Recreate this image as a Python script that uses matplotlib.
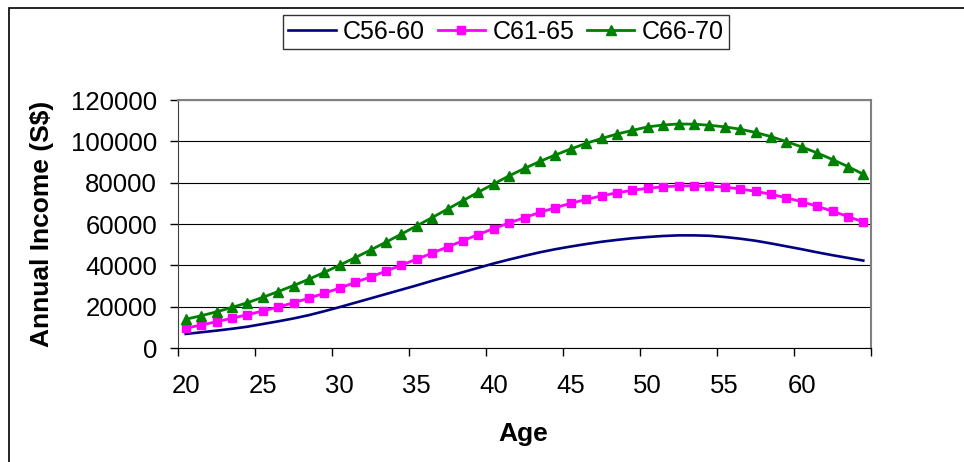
import matplotlib
matplotlib.use("Agg")
import matplotlib.pyplot as plt
from matplotlib.patches import Rectangle

plt.rcParams["font.family"] = ["Liberation Sans", "DejaVu Sans"]

# ages 20..64, one point per year
ages = list(range(20, 65))

c56_60 = [6800, 7600, 8400, 9300, 10300, 11600, 12900, 14300, 15900, 17800,
          19800, 21900, 24000, 26100, 28200, 30300, 32500, 34600, 36700, 38800,
          40900, 42800, 44600, 46300, 47800, 49100, 50300, 51400, 52300, 53100,
          53700, 54200, 54500, 54500, 54300, 53700, 52900, 51900, 50600, 49200,
          47800, 46300, 44900, 43600, 42300]

c61_65 = [9600, 11100, 12700, 14400, 16100, 17900, 19800, 21900, 24100, 26500,
          29000, 31700, 34400, 37200, 40100, 43000, 45900, 48900, 51900, 54900,
          57800, 60500, 63100, 65600, 67900, 70000, 71900, 73600, 75100, 76300,
          77300, 78000, 78400, 78500, 78300, 77800, 77000, 75800, 74400, 72700,
          70800, 68600, 66200, 63600, 61000]

c66_70 = [13900, 15600, 17500, 19600, 21900, 24500, 27300, 30200, 33300, 36600,
          40100, 43700, 47400, 51200, 55100, 59100, 63100, 67200, 71300, 75400,
          79400, 83300, 86900, 90300, 93400, 96300, 99000, 101400, 103500, 105300,
          107000, 107900, 108400, 108300, 107800, 107000, 105900, 104300, 102300, 99900,
          97300, 94400, 91200, 87800, 84100]

age_labels = [20, 25, 30, 35, 40, 45, 50, 55, 60]
y_ticks = [0, 20000, 40000, 60000, 80000, 100000, 120000]

W, H = 964, 462
fig = plt.figure(figsize=(W / 100, H / 100), dpi=100)
ax = fig.add_axes([178 / W, 1 - 348 / H, (871 - 178) / W, (348 - 100) / H])

# outer chart border (only left/top visible in the crop)
fig.add_artist(Rectangle((9 / W, -0.1), 1.2, 1 - 8 / H + 0.1,
                         transform=fig.transFigure, fill=False,
                         edgecolor="black", linewidth=1.2))

ax.plot(ages, c56_60, color="#000080", linewidth=1.9, label="C56-60")
ax.plot(ages, c61_65, color="#FF00FF", linewidth=2.0, marker="s",
        markersize=6.3, label="C61-65")
ax.plot(ages, c66_70, color="#008000", linewidth=2.0, marker="^",
        markersize=7, label="C66-70")

ax.set_xlim(19.5, 64.5)
ax.set_ylim(0, 120000)
ax.set_yticks(y_ticks)
ax.set_yticklabels([str(v) for v in y_ticks])
ax.yaxis.grid(True, color="black", linewidth=0.8)
ax.set_axisbelow(True)

# category axis: ticks on boundaries, labels on category centres
ax.set_xticks([a - 0.5 for a in range(20, 66, 5)])
ax.set_xticklabels([])
ax.set_xticks(age_labels, minor=True)
ax.set_xticklabels([str(a) for a in age_labels], minor=True)
ax.tick_params(axis="x", which="major", direction="out", length=6, width=1)
ax.tick_params(axis="x", which="minor", length=0, pad=19, labelsize=18.5)
ax.tick_params(axis="y", direction="out", length=6, width=1, pad=9, labelsize=18.5)

for side in ("top", "right"):
    ax.spines[side].set_color("#808080")
    ax.spines[side].set_linewidth(1.5)
ax.spines["left"].set_color("#404040")
ax.spines["bottom"].set_color("black")

fig.text(523 / W, 1 - 434 / H, "Age", ha="center", va="center",
         fontsize=19, fontweight="bold")
fig.text(42 / W, 1 - 224 / H, "Annual Income (S$)", ha="center", va="center",
         rotation=90, fontsize=19, fontweight="bold")

leg = fig.legend(loc="center", bbox_to_anchor=(506 / W, 1 - 32 / H), ncol=3,
                 fontsize=18, frameon=True, fancybox=False, handlelength=1.9,
                 handletextpad=0.3, columnspacing=0.5, borderpad=0.2)
leg.get_frame().set_edgecolor("black")
leg.get_frame().set_linewidth(1.0)

fig.savefig("out.png", dpi=100)
